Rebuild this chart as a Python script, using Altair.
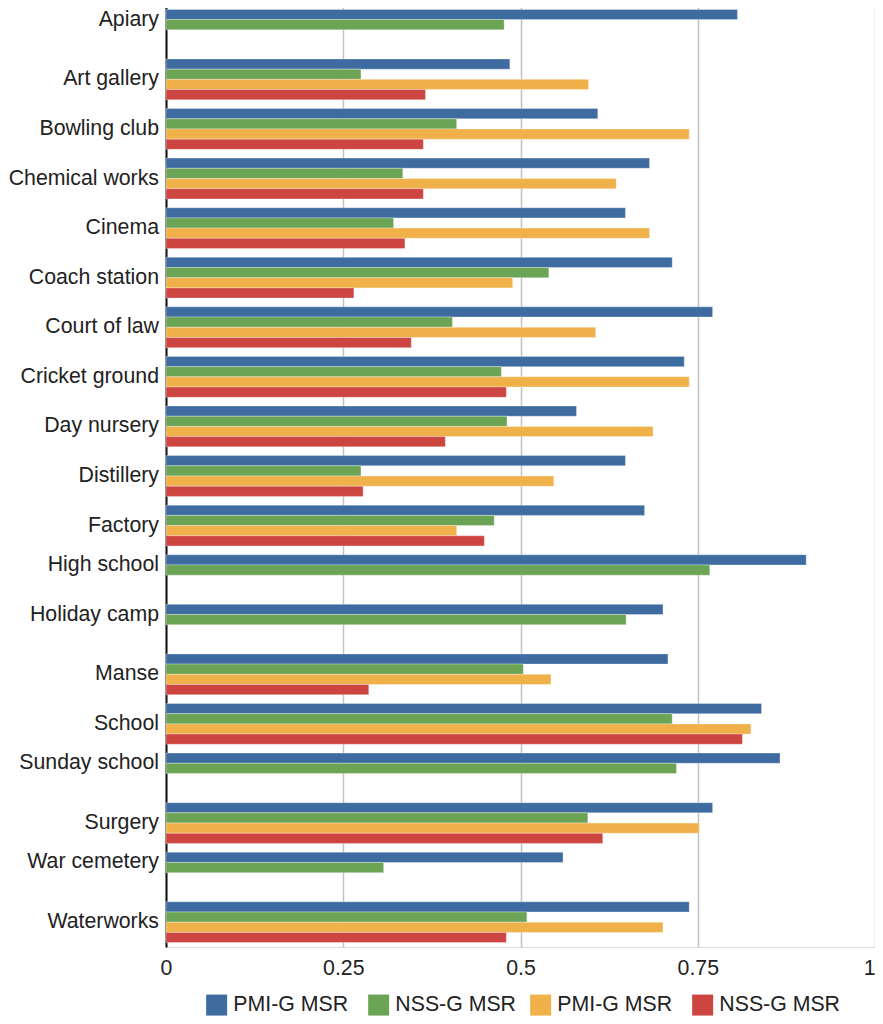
import altair as alt
import pandas as pd

categories = ["Apiary", "Art gallery", "Bowling club", "Chemical works", "Cinema",
              "Coach station", "Court of law", "Cricket ground", "Day nursery",
              "Distillery", "Factory", "High school", "Holiday camp", "Manse",
              "School", "Sunday school", "Surgery", "War cemetery", "Waterworks"]
series_names = ["PMI-G MSR", "NSS-G MSR", "PMI-G MSR", "NSS-G MSR"]
series_keys = ["s1", "s2", "s3", "s4"]
series_colors = ["#3e6ca0", "#6ca455", "#f0b14a", "#cd4541"]

pmi_g_1 = [0.806, 0.485, 0.609, 0.682, 0.648, 0.714, 0.771, 0.731, 0.579, 0.648,
           0.675, 0.903, 0.701, 0.708, 0.840, 0.866, 0.771, 0.560, 0.738]
nss_g_1 = [0.477, 0.275, 0.410, 0.334, 0.321, 0.540, 0.404, 0.473, 0.481, 0.275,
           0.463, 0.767, 0.649, 0.504, 0.714, 0.720, 0.595, 0.307, 0.509]
pmi_g_2 = [None, 0.596, 0.738, 0.635, 0.682, 0.489, 0.606, 0.738, 0.687, 0.547,
           0.410, None, None, 0.543, 0.825, None, 0.752, None, 0.701]
nss_g_2 = [None, 0.366, 0.363, 0.363, 0.337, 0.265, 0.346, 0.480, 0.394, 0.278,
           0.449, None, None, 0.286, 0.813, None, 0.616, None, 0.480]

all_series = [pmi_g_1, nss_g_1, pmi_g_2, nss_g_2]

rows = []
for s_idx, (key, vals) in enumerate(zip(series_keys, all_series)):
    for cat, v in zip(categories, vals):
        if v is not None:
            rows.append({"category": cat, "key": key, "slot": s_idx, "value": v})
df = pd.DataFrame(rows)

label_rows = []
for i, cat in enumerate(categories):
    n = sum(1 for s in all_series if s[i] is not None)
    label_rows.append({"category": cat, "nbars": n})
labels_df = pd.DataFrame(label_rows)

FONT = "Liberation Sans"
TXT = "#222222"
FS = 21.3

label_expr = " : ".join(
    f"datum.label == '{k}' ? '{n}'" for k, n in zip(series_keys, series_names)
) + " : datum.label"

y_axis = alt.Axis(labels=False, ticks=False, title=None, grid=False,
                  domain=True, domainColor="#111111", domainWidth=2)
x_axis = alt.Axis(values=[0, 0.25, 0.5, 0.75, 1], format="~g", title=None,
                  ticks=False, tickSize=0, domain=False, grid=True,
                  gridColor="#c2c2c2", gridWidth=1.5, labelFontSize=FS,
                  labelFont=FONT, labelColor=TXT, labelPadding=10,
                  labelFlush=False,
                  labelAlign={"condition": {"test": "datum.value == 1",
                                            "value": "right"},
                              "value": "center"})

y_enc = alt.Y("category:N", sort=categories,
              scale=alt.Scale(domain=categories, paddingInner=0.177,
                              paddingOuter=0.0885),
              axis=y_axis)

bars = alt.Chart(df).mark_bar(stroke="white", strokeWidth=0.7,
                              strokeOpacity=0.45).encode(
    y=y_enc,
    yOffset=alt.YOffset("slot:O", scale=alt.Scale(domain=[0, 1, 2, 3])),
    x=alt.X("value:Q", scale=alt.Scale(domain=[0, 1], nice=False), axis=x_axis),
    color=alt.Color(
        "key:N",
        scale=alt.Scale(domain=series_keys, range=series_colors),
        legend=alt.Legend(
            orient="none", legendX=40, legendY=989, direction="horizontal",
            columns=4, gridAlign="all", columnPadding=14, title=None,
            symbolType="square", symbolSize=441, symbolStrokeWidth=0,
            symbolOpacity=1, labelFontSize=FS, labelFont=FONT,
            labelColor=TXT, labelOffset=6, labelExpr=label_expr, padding=0,
            labelLimit=300,
        ),
    ),
)

text4 = alt.Chart(labels_df).transform_filter("datum.nbars == 4").mark_text(
    align="right", baseline="middle", dx=-7, fontSize=FS, font=FONT, color=TXT
).encode(y=y_enc, x=alt.datum(0), text="category:N")

text2 = alt.Chart(labels_df).transform_filter("datum.nbars == 2").mark_text(
    align="right", baseline="middle", dx=-7, dy=-10.2, fontSize=FS, font=FONT,
    color=TXT
).encode(y=y_enc, x=alt.datum(0), text="category:N")

chart = alt.layer(bars, text4, text2).properties(
    width=709, height=942,
    padding={"left": 0, "top": -3, "right": 0, "bottom": 0},
).configure_view(stroke=None).configure(font=FONT)

chart.save("out.html", embed_options={"renderer": "svg", "actions": False})
